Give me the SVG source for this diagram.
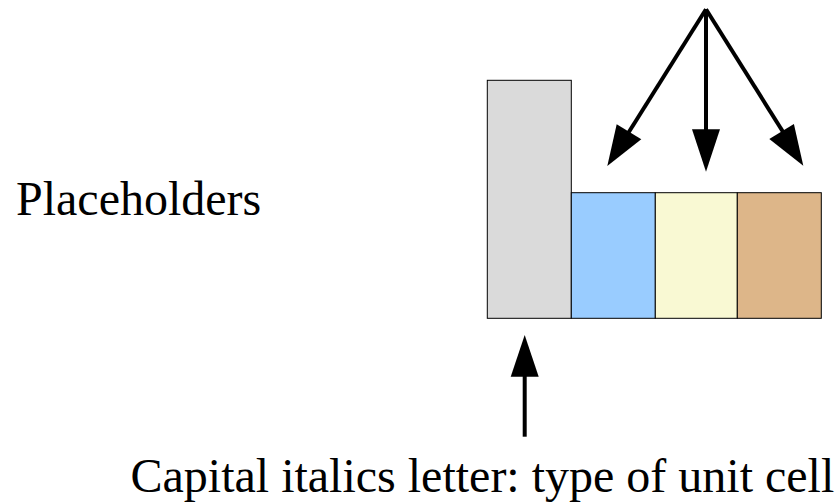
<svg xmlns="http://www.w3.org/2000/svg" width="838" height="502" viewBox="0 0 838 502">
  <style>
    .label { font-family: "Liberation Serif", "Times New Roman", serif; font-size: 48px; fill: #000; }
    .cell { stroke: #000; stroke-width: 1; }
    .conn { stroke: #000; stroke-width: 4; fill: none; }
    .head { fill: #000; stroke: none; }
  </style>
  <rect width="838" height="502" fill="#fff"/>

  <g id="placeholders-label">
    <text class="label" x="16" y="215">Placeholders</text>
  </g>

  <g id="cell-gray">
    <rect class="cell" x="487.3" y="80.3" width="84" height="238" fill="#dadada"/>
  </g>
  <g id="cell-blue">
    <rect class="cell" x="571.3" y="192.7" width="84" height="125.6" fill="#99ccff"/>
  </g>
  <g id="cell-yellow">
    <rect class="cell" x="655.3" y="192.7" width="82" height="125.6" fill="#f9f9d3"/>
  </g>
  <g id="cell-brown">
    <rect class="cell" x="737.3" y="192.7" width="84" height="125.6" fill="#ddb689"/>
  </g>

  <g id="connectors">
    <!-- fan of three arrows from the top point -->
    <line class="conn" x1="706" y1="9.3" x2="627" y2="135"/>
    <polygon class="head" points="607.3,166 616.7,124.3 641.3,139.3"/>
    <line class="conn" x1="706" y1="9.3" x2="706" y2="132"/>
    <polygon class="head" points="706,171.7 692,129.3 720,129.3"/>
    <line class="conn" x1="706" y1="9.3" x2="785" y2="135"/>
    <polygon class="head" points="803.3,165.7 793.9,124 769.3,139"/>
    <!-- arrow up to the gray cell -->
    <line class="conn" x1="524.7" y1="436.7" x2="524.7" y2="372"/>
    <polygon class="head" points="524.7,335 510.7,376.7 538.7,376.7"/>
  </g>

  <g id="caption">
    <text class="label" x="130.5" y="491.7">Capital italics letter: type of unit cell</text>
  </g>
</svg>
